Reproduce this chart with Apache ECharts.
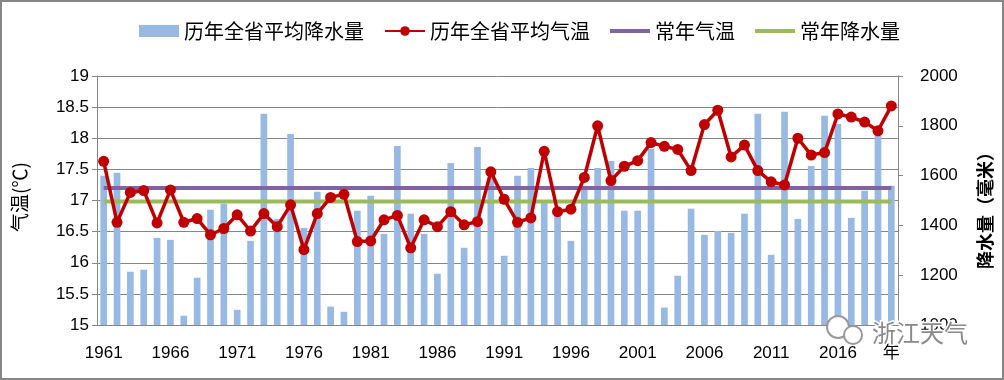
<!DOCTYPE html>
<html>
<head>
<meta charset="utf-8">
<script src="https://cdn.jsdelivr.net/npm/echarts@6/dist/echarts.min.js"></script>
<style>
html,body{margin:0;padding:0;background:#fff;}
#chart{width:1004px;height:380px;}
</style>
</head>
<body>
<div id="chart"></div>
<script>
const years = ['1961','1962','1963','1964','1965','1966','1967','1968','1969','1970',
'1971','1972','1973','1974','1975','1976','1977','1978','1979','1980',
'1981','1982','1983','1984','1985','1986','1987','1988','1989','1990',
'1991','1992','1993','1994','1995','1996','1997','1998','1999','2000',
'2001','2002','2003','2004','2005','2006','2007','2008','2009','2010',
'2011','2012','2013','2014','2015','2016','2017','2018','2019','2020'];

const precipitation = [1599,1611,1214,1222,1350,1342,1037,1190,1463,1487,
1061,1338,1848,1426,1767,1390,1535,1074,1053,1459,
1519,1366,1719,1447,1366,1206,1651,1310,1715,1590,
1278,1599,1631,1500,1470,1338,1559,1631,1659,1459,
1459,1708,1070,1198,1467,1362,1378,1370,1447,1848,
1282,1856,1426,1639,1840,1807,1430,1539,1760,1559];

const temperature = [17.63,16.65,17.13,17.16,16.64,17.17,16.65,16.71,16.45,16.55,
16.77,16.51,16.79,16.58,16.93,16.21,16.79,17.05,17.10,16.34,
16.35,16.69,16.76,16.24,16.69,16.58,16.82,16.61,16.66,17.46,
17.02,16.65,16.72,17.79,16.82,16.86,17.37,18.20,17.32,17.55,
17.64,17.93,17.87,17.82,17.48,18.22,18.45,17.70,17.89,17.48,
17.30,17.25,18.00,17.73,17.77,18.39,18.34,18.26,18.12,18.52];

const normalTemp = 17.2;
const normalPrecip = 1496;

const seriesNames = ['历年全省平均降水量','历年全省平均气温','常年气温','常年降水量'];
const leftTicks = {min:15, max:19, interval:0.5};
const rightTicks = {min:1000, max:2000, interval:200};

const normalTempLine = years.map(() => normalTemp);
const normalPrecipLine = years.map(() => normalPrecip);

const FONT = "'Liberation Sans', 'Noto Sans CJK SC', sans-serif";
const CJK = "'Noto Sans CJK SC', sans-serif";
const LINE_ICON = 'path://M0,0 L40,0 L40,4 L0,4 Z';

const chart = echarts.init(document.getElementById('chart'), null, {renderer:'canvas'});
chart.setOption({
  animation:false,
  backgroundColor:'#fff',
  textStyle:{fontFamily:FONT},
  grid:{left:97, right:106, top:76, height:249, containLabel:false},
  legend:{
    left:134, top:16,
    itemWidth:40, itemHeight:12, itemGap:20,
    symbolKeepAspect:true,
    textStyle:{fontSize:20, color:'#000', fontFamily:CJK},
    data:[
      {name:seriesNames[0], icon:'rect'},
      {name:seriesNames[1]},
      {name:seriesNames[2], icon:LINE_ICON},
      {name:seriesNames[3], icon:LINE_ICON}
    ]
  },
  xAxis:{
    type:'category',
    data:years,
    boundaryGap:true,
    axisLine:{lineStyle:{color:'#868686', width:1}},
    axisTick:{show:false},
    axisLabel:{
      interval:function(i){return i%5===0 || i===years.length-1;},
      formatter:function(v,i){return i===years.length-1 ? '年' : v;},
      fontSize:17, color:'#000', margin:20, fontFamily:FONT
    }
  },
  yAxis:[
    {
      type:'value', min:leftTicks.min, max:leftTicks.max, interval:leftTicks.interval,
      axisLine:{show:true, lineStyle:{color:'#868686'}},
      axisTick:{show:true, length:5, lineStyle:{color:'#868686'}},
      splitLine:{show:true, lineStyle:{color:'#868686', width:1}},
      axisLabel:{fontSize:17, color:'#000', margin:8, formatter:function(v){return String(v);}}
    },
    {
      type:'value', min:rightTicks.min, max:rightTicks.max, interval:rightTicks.interval,
      axisLine:{show:true, lineStyle:{color:'#868686'}},
      axisTick:{show:true, length:5, lineStyle:{color:'#868686'}},
      splitLine:{show:false},
      axisLabel:{fontSize:17, color:'#000', margin:22, formatter:function(v){return String(v);}}
    }
  ],
  series:[
    {
      name:seriesNames[0], type:'bar', yAxisIndex:1, data:precipitation,
      barWidth:'50%', itemStyle:{color:'#97B9E4'}, z:1
    },
    {
      name:seriesNames[2], type:'line', yAxisIndex:0, data:normalTempLine,
      symbol:'none', lineStyle:{color:'#8064A2', width:4}, itemStyle:{color:'#8064A2'}, z:2
    },
    {
      name:seriesNames[3], type:'line', yAxisIndex:1, data:normalPrecipLine,
      symbol:'none', lineStyle:{color:'#9BBB59', width:4}, itemStyle:{color:'#9BBB59'}, z:2
    },
    {
      name:seriesNames[1], type:'line', yAxisIndex:0, data:temperature,
      symbol:'circle', symbolSize:11, showAllSymbol:true,
      lineStyle:{color:'#C00000', width:3.5}, itemStyle:{color:'#C00000'}, z:5
    }
  ],
  graphic:[
    {type:'rect', shape:{x:1, y:1, width:1002, height:378}, style:{fill:'none', stroke:'#868686', lineWidth:2}, z:100},
    {type:'text', x:20, y:197, rotation:Math.PI/2, style:{text:'气温(℃)', fontSize:19, fill:'#000', fontFamily:CJK, align:'center', verticalAlign:'middle'}},
    {type:'text', x:985, y:206, rotation:Math.PI/2, style:{text:'降水量（毫米）', fontSize:18, fontWeight:'bold', fill:'#000', fontFamily:CJK, align:'center', verticalAlign:'middle'}},
    {type:'circle', shape:{cx:838, cy:327, r:11}, style:{fill:'#fff', stroke:'#999', lineWidth:2}, z:50},
    {type:'circle', shape:{cx:853, cy:335, r:9}, style:{fill:'#fff', stroke:'#999', lineWidth:2}, z:51},
    {type:'text', x:872, y:333, style:{text:'浙江天气', fontSize:24, fill:'#8a8a8a', stroke:'#fff', lineWidth:3, fontFamily:CJK, align:'left', verticalAlign:'middle'}, z:52}
  ]
});
</script>
</body>
</html>
